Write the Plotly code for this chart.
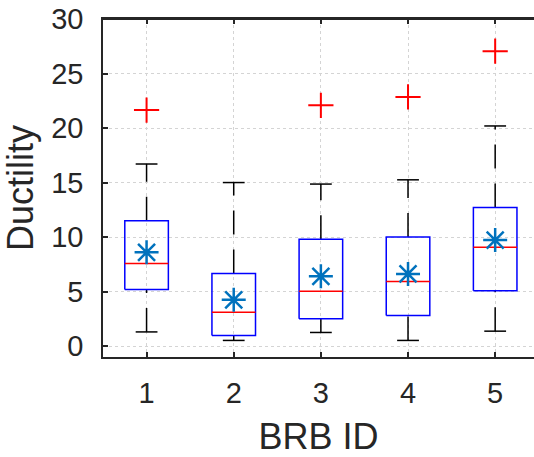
import plotly.graph_objects as go

# ---- data ----
brb_ids = [1, 2, 3, 4, 5]
q1 = [5.2, 0.98, 2.5, 2.8, 5.07]
medians = [7.57, 3.1, 5.03, 5.92, 9.06]
q3 = [11.5, 6.65, 9.8, 10.0, 12.72]
lower_whisker = [1.3, 0.52, 1.25, 0.52, 1.37]
upper_whisker = [16.7, 15.0, 14.86, 15.25, 20.19]
means = [8.6, 4.24, 6.4, 6.62, 9.73]
outlier_x = [1, 3, 4, 5]
outlier_y = [21.65, 22.08, 22.85, 27.05]
y_ticks = [0, 5, 10, 15, 20, 25, 30]

BOX_HALF = 0.25
CAP_HALF = 0.125

box_x, box_y = [], []
med_x, med_y = [], []
wh_x, wh_y = [], []
cap_x, cap_y = [], []
for i, x in enumerate(brb_ids):
    box_x += [x - BOX_HALF, x + BOX_HALF, x + BOX_HALF, x - BOX_HALF, x - BOX_HALF, None]
    box_y += [q1[i], q1[i], q3[i], q3[i], q1[i], None]
    med_x += [x - BOX_HALF, x + BOX_HALF, None]
    med_y += [medians[i], medians[i], None]
    # whiskers drawn bottom -> top (dash phase like the reference)
    wh_x += [x, x, None, x, x, None]
    wh_y += [lower_whisker[i], q1[i], None, q3[i], upper_whisker[i], None]
    cap_x += [x - CAP_HALF, x + CAP_HALF, None, x - CAP_HALF, x + CAP_HALF, None]
    cap_y += [lower_whisker[i], lower_whisker[i], None, upper_whisker[i], upper_whisker[i], None]

fig = go.Figure()
fig.add_trace(go.Scatter(x=wh_x, y=wh_y, mode="lines",
                         line=dict(color="black", width=1.5, dash="24px,15px"),
                         hoverinfo="skip", showlegend=False))
fig.add_trace(go.Scatter(x=cap_x, y=cap_y, mode="lines",
                         line=dict(color="black", width=1.5),
                         hoverinfo="skip", showlegend=False))
fig.add_trace(go.Scatter(x=box_x, y=box_y, mode="lines",
                         line=dict(color="#0000FF", width=1.5),
                         hoverinfo="skip", showlegend=False))
fig.add_trace(go.Scatter(x=med_x, y=med_y, mode="lines",
                         line=dict(color="#FF0000", width=1.5),
                         hoverinfo="skip", showlegend=False))
fig.add_trace(go.Scatter(x=outlier_x, y=outlier_y, mode="markers",
                         marker=dict(symbol="cross-thin-open", size=18, color="#FF0000",
                                     line=dict(color="#FF0000", width=2)),
                         showlegend=False))
fig.add_trace(go.Scatter(x=brb_ids, y=means, mode="markers",
                         marker=dict(symbol="asterisk-open", size=20, color="#0072BD",
                                     line=dict(color="#0072BD", width=2.5)),
                         showlegend=False))

axis_color = "#262626"
grid_color = "#d4d4d4"
fig.update_layout(
    width=534, height=457,
    margin=dict(l=103, r=0, t=19, b=100),
    paper_bgcolor="white", plot_bgcolor="white",
    font=dict(family="Liberation Sans, Arial, sans-serif", color=axis_color),
    xaxis=dict(
        range=[0.5, 5.4455], tickvals=brb_ids, ticktext=[str(v) for v in brb_ids],
        showgrid=True, gridcolor=grid_color, griddash="dot", gridwidth=1,
        showline=True, linecolor=axis_color, linewidth=1.5, mirror="allticks",
        ticks="inside", ticklen=5, tickwidth=1.5, tickcolor=axis_color,
        tickfont=dict(size=29, color=axis_color), ticklabelstandoff=9,
        zeroline=False,
        title=dict(text="BRB ID", font=dict(size=36, color=axis_color), standoff=22),
    ),
    yaxis=dict(
        range=[-1, 30], tickvals=y_ticks, ticktext=[str(v) for v in y_ticks],
        showgrid=True, gridcolor=grid_color, griddash="dot", gridwidth=1,
        showline=True, linecolor=axis_color, linewidth=1.5, mirror=False,
        ticks="inside", ticklen=5, tickwidth=1.5, tickcolor=axis_color,
        tickfont=dict(size=29, color=axis_color), ticklabelstandoff=12,
        zeroline=False,
        title=dict(text="Ductility", font=dict(size=36, color=axis_color), standoff=10),
    ),
    shapes=[dict(type="line", xref="paper", yref="paper", x0=0, x1=1, y0=1, y1=1,
                 line=dict(color=axis_color, width=2), layer="above")],
)

fig.write_html("out.html", config={"displayModeBar": False})
